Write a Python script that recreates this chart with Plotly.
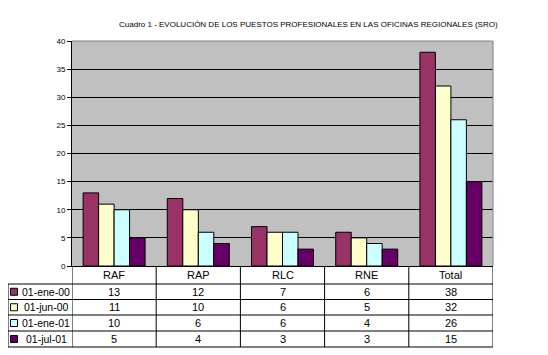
import plotly.graph_objects as go

categories = ["RAF", "RAP", "RLC", "RNE", "Total"]
series_names = ["01-ene-00", "01-jun-00", "01-ene-01", "01-jul-01"]
s_ene00 = [13, 12, 7, 6, 38]
s_jun00 = [11, 10, 6, 5, 32]
s_ene01 = [10, 6, 6, 4, 26]
s_jul01 = [5, 4, 3, 3, 15]
series_values = [s_ene00, s_jun00, s_ene01, s_jul01]
colors = ["#993366", "#FFFFCC", "#CCFFFF", "#660066"]
y_ticks = [0, 5, 10, 15, 20, 25, 30, 35, 40]
title_text = "Cuadro 1 - EVOLUCIÓN DE LOS PUESTOS PROFESIONALES EN LAS OFICINAS REGIONALES (SRO)"

OFF = 8  # page body margin
W, H = 548 - OFF, 355 - OFF
L, R, T, B = 72 - OFF, 493 - OFF, 41 - OFF, 266 - OFF
FONT = "Liberation Sans, Arial, sans-serif"


def py(p):
    return (B - (p - OFF)) / (B - T)


def px(p):
    return ((p - OFF) - L) / (R - L)


fig = go.Figure()
for name, vals, col in zip(series_names, series_values, colors):
    fig.add_trace(go.Bar(x=categories, y=vals, name=name,
                         marker=dict(color=col, line=dict(color="black", width=1)),
                         showlegend=False))

shapes = []
annotations = []
n = len(categories)
shapes.append(dict(type="line", xref="paper", yref="paper", x0=0, x1=1, y0=1, y1=1,
                   line=dict(color="#808080", width=1), layer="above"))
shapes.append(dict(type="line", xref="paper", yref="paper", x0=1, x1=1, y0=0, y1=1,
                   line=dict(color="#808080", width=1), layer="above"))

header_bottom = 284
row_edges = [284, 299.5, 315, 331, 347]
leg_left = 8
base = 266
lw = dict(color="black", width=1)
for i in range(n + 1):
    xv = i - 0.5
    shapes.append(dict(type="line", xref="x", yref="paper", x0=xv, x1=xv,
                       y0=py(base), y1=py(row_edges[-1]), line=lw))
for ry in row_edges:
    shapes.append(dict(type="line", xref="paper", yref="paper", x0=px(leg_left), x1=1,
                       y0=py(ry), y1=py(ry), line=lw))
shapes.append(dict(type="line", xref="paper", yref="paper", x0=px(leg_left), x1=px(leg_left),
                   y0=py(row_edges[0]), y1=py(row_edges[-1]), line=lw))

for i, c in enumerate(categories):
    annotations.append(dict(x=i, y=py((base + header_bottom) / 2), xref="x", yref="paper",
                            text=c, showarrow=False, font=dict(family=FONT, size=11, color="black"),
                            xanchor="center", yanchor="middle"))
for r, (name, vals, col) in enumerate(zip(series_names, series_values, colors)):
    yc = (row_edges[r] + row_edges[r + 1]) / 2
    shapes.append(dict(type="rect", xref="paper", yref="paper", x0=px(10.5), x1=px(17.5),
                       y0=py(yc + 3.5), y1=py(yc - 3.5), fillcolor=col, line=lw))
    annotations.append(dict(x=px(46), y=py(yc), xref="paper", yref="paper", text=name,
                            showarrow=False, font=dict(family=FONT, size=10.5, color="black"),
                            xanchor="center", yanchor="middle"))
    for i, v in enumerate(vals):
        annotations.append(dict(x=i, y=py(yc), xref="x", yref="paper", text=str(v),
                                showarrow=False, font=dict(family=FONT, size=11, color="black"),
                                xanchor="center", yanchor="middle"))

annotations.append(dict(x=px(308), y=py(25), xref="paper", yref="paper", text=title_text,
                        showarrow=False, font=dict(family=FONT, size=8, color="black"),
                        xanchor="center", yanchor="middle"))

fig.update_layout(
    width=W, height=H,
    margin=dict(l=L, r=W - R, t=T, b=H - B, pad=0),
    paper_bgcolor="white", plot_bgcolor="#C0C0C0",
    barmode="group", bargap=0.264, bargroupgap=0,
    shapes=shapes, annotations=annotations,
    font=dict(family=FONT, size=8, color="black"),
)
fig.update_xaxes(showticklabels=False, showline=True, linecolor="black", linewidth=1,
                 showgrid=False, ticks="", range=[-0.5, n - 0.5], fixedrange=True)
fig.update_yaxes(range=[0, 40], tickvals=y_ticks, showline=True, linecolor="black", linewidth=1,
                 showgrid=True, gridcolor="black", gridwidth=1, ticks="outside", ticklen=4,
                 tickcolor="black", tickfont=dict(family=FONT, size=8), zeroline=False,
                 fixedrange=True)

fig.write_html("out.html")
